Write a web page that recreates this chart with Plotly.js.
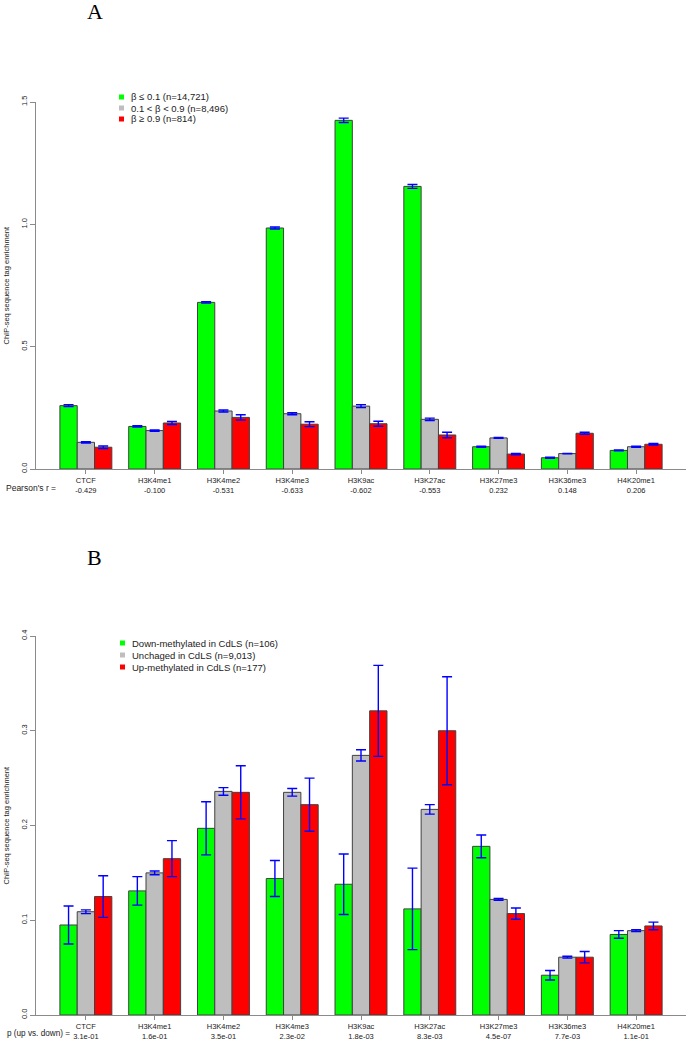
<!DOCTYPE html>
<html>
<head>
<meta charset="utf-8">
<script src="https://cdn.plot.ly/plotly-3.0.1.min.js"></script>
<style>html,body{margin:0;padding:0;background:#fff;}#chart{width:687px;height:1043px;}</style>
</head>
<body>
<div id="chart"></div>
<script>
// ---- data ----
const categories = ['CTCF','H3K4me1','H3K4me2','H3K4me3','H3K9ac','H3K27ac','H3K27me3','H3K36me3','H4K20me1'];
const pearsonR = ['-0.429','-0.100','-0.531','-0.633','-0.602','-0.553','0.232','0.148','0.206'];
const pUpDown = ['3.1e-01','1.6e-01','3.5e-01','2.3e-02','1.8e-03','8.3e-03','4.5e-07','7.7e-03','1.1e-01'];

const seriesA = ['β ≤ 0.1 (n=14,721)', '0.1 &lt; β &lt; 0.9 (n=8,496)', 'β ≥ 0.9 (n=814)'];
const aLow     = [0.259, 0.174, 0.681, 0.985, 1.425, 1.155, 0.091, 0.046, 0.076];
const aLowErr  = [0.004, 0.003, 0.003, 0.004, 0.009, 0.008, 0.002, 0.002, 0.002];
const aMid     = [0.109, 0.157, 0.237, 0.226, 0.257, 0.203, 0.127, 0.063, 0.091];
const aMidErr  = [0.003, 0.003, 0.004, 0.004, 0.006, 0.005, 0.002, 0.001, 0.002];
const aHigh    = [0.089, 0.188, 0.211, 0.183, 0.185, 0.139, 0.061, 0.146, 0.101];
const aHighErr = [0.005, 0.006, 0.011, 0.010, 0.010, 0.011, 0.003, 0.004, 0.003];

const seriesB = ['Down-methylated in CdLS (n=106)', 'Unchaged in CdLS (n=9,013)', 'Up-methylated in CdLS (n=177)'];
const bDown    = [0.095, 0.131, 0.197, 0.144, 0.138, 0.112, 0.178, 0.042, 0.085];
const bDownErr = [0.020, 0.015, 0.028, 0.019, 0.032, 0.043, 0.012, 0.005, 0.004];
const bUnch    = [0.109, 0.150, 0.236, 0.235, 0.274, 0.217, 0.122, 0.061, 0.089];
const bUnchErr = [0.002, 0.002, 0.004, 0.004, 0.006, 0.005, 0.001, 0.001, 0.001];
const bUp      = [0.125, 0.165, 0.235, 0.222, 0.321, 0.300, 0.107, 0.061, 0.094];
const bUpErr   = [0.022, 0.019, 0.028, 0.028, 0.048, 0.057, 0.006, 0.006, 0.004];

const colors = ['#00FF00', '#BEBEBE', '#FF0000'];

// ---- geometry helpers (pixel -> paper) ----
const W = 687, H = 1043;
const px = v => v / W;
const py = v => 1 - v / H;

const FONT = 'Liberation Sans, Arial, Helvetica, sans-serif';

function barTrace(vals, errs, i, xa, ya) {
  return {
    type: 'bar', x: categories, y: vals, xaxis: xa, yaxis: ya,
    marker: {color: colors[i], line: {color: '#404040', width: 1}},
    error_y: {type: 'data', array: errs, visible: true, color: '#0000FF', thickness: 1.4, width: 5},
    showlegend: false, hoverinfo: 'x+y'
  };
}

const data = [
  barTrace(aLow, aLowErr, 0, 'x', 'y'),
  barTrace(aMid, aMidErr, 1, 'x', 'y'),
  barTrace(aHigh, aHighErr, 2, 'x', 'y'),
  barTrace(bDown, bDownErr, 0, 'x2', 'y2'),
  barTrace(bUnch, bUnchErr, 1, 'x2', 'y2'),
  barTrace(bUp, bUpErr, 2, 'x2', 'y2')
];

const axisColor = '#8a8a8a';
const tickFont = {family: FONT, size: 7.5, color: '#222'};

function xAxis(anchor, secondLine) {
  return {
    anchor: anchor, domain: [px(36), px(686)], type: 'category',
    range: [-0.725, 8.725], showgrid: false, zeroline: false,
    showline: true, linecolor: axisColor, linewidth: 1,
    ticks: 'outside', ticklen: 4, tickcolor: axisColor,
    tickmode: 'array', tickvals: categories,
    ticktext: categories.map((c, i) => c + '<br>' + secondLine[i]),
    tickfont: tickFont, fixedrange: true
  };
}
function yAxis(anchor, dom, range, vals) {
  return {
    anchor: anchor, domain: dom, range: range, showgrid: false, zeroline: false,
    showline: true, linecolor: axisColor, linewidth: 1,
    ticks: 'outside', ticklen: 5, tickcolor: axisColor,
    tickmode: 'array', tickvals: vals, ticktext: vals.map(v => v.toFixed(1)),
    tickangle: -90, tickfont: tickFont, fixedrange: true
  };
}

const annotations = [];
const shapes = [];

// panel letters
annotations.push({xref: 'paper', yref: 'paper', x: px(95), y: py(11), text: 'A', showarrow: false,
  font: {family: 'Liberation Serif, DejaVu Serif, serif', size: 22, color: '#000'}, xanchor: 'center', yanchor: 'middle'});
annotations.push({xref: 'paper', yref: 'paper', x: px(94), y: py(557), text: 'B', showarrow: false,
  font: {family: 'Liberation Serif, DejaVu Serif, serif', size: 22, color: '#000'}, xanchor: 'center', yanchor: 'middle'});

// y titles
annotations.push({xref: 'paper', yref: 'paper', x: px(6), y: py(285.5), text: 'ChIP-seq sequence tag enrichment',
  textangle: -90, showarrow: false, font: {family: FONT, size: 7.5, color: '#222'}, xanchor: 'center', yanchor: 'middle'});
annotations.push({xref: 'paper', yref: 'paper', x: px(6), y: py(825.5), text: 'ChIP-seq sequence tag enrichment',
  textangle: -90, showarrow: false, font: {family: FONT, size: 7.5, color: '#222'}, xanchor: 'center', yanchor: 'middle'});

// second-line row labels
annotations.push({xref: 'paper', yref: 'paper', x: px(58), y: py(488), text: "Pearson's r =",
  showarrow: false, font: {family: FONT, size: 8.5, color: '#222'}, xanchor: 'right', yanchor: 'middle'});
annotations.push({xref: 'paper', yref: 'paper', x: px(72), y: py(1033), text: 'p (up vs. down) =',
  showarrow: false, font: {family: FONT, size: 8.2, color: '#222'}, xanchor: 'right', yanchor: 'middle'});

// legends
function legend(labels, x0, yRows) {
  labels.forEach((lab, i) => {
    shapes.push({type: 'rect', xref: 'paper', yref: 'paper',
      x0: px(x0), x1: px(x0 + 5), y0: py(yRows[i] + 2.5), y1: py(yRows[i] - 2.5),
      fillcolor: colors[i], line: {width: 0}});
    annotations.push({xref: 'paper', yref: 'paper', x: px(x0 + 10), y: py(yRows[i]), text: lab,
      showarrow: false, xanchor: 'left', yanchor: 'middle', font: {family: FONT, size: 9.5, color: '#222'}});
  });
}
legend(seriesA, 119, [97, 108, 119]);
legend(seriesB, 120, [643, 655, 667]);

const layout = {
  width: W, height: H,
  margin: {l: 0, r: 0, t: 0, b: 0},
  paper_bgcolor: '#fff', plot_bgcolor: '#fff',
  barmode: 'group', bargap: 0.245, bargroupgap: 0,
  showlegend: false,
  font: {family: FONT, color: '#222'},
  xaxis: xAxis('y', pearsonR),
  yaxis: yAxis('x', [py(469), py(102)], [0, 1.5], [0, 0.5, 1.0, 1.5]),
  xaxis2: xAxis('y2', pUpDown),
  yaxis2: yAxis('x2', [py(1015), py(636)], [0, 0.4], [0, 0.1, 0.2, 0.3, 0.4]),
  annotations: annotations,
  shapes: shapes
};

Plotly.newPlot('chart', data, layout, {displayModeBar: false, staticPlot: true});
</script>
</body>
</html>
